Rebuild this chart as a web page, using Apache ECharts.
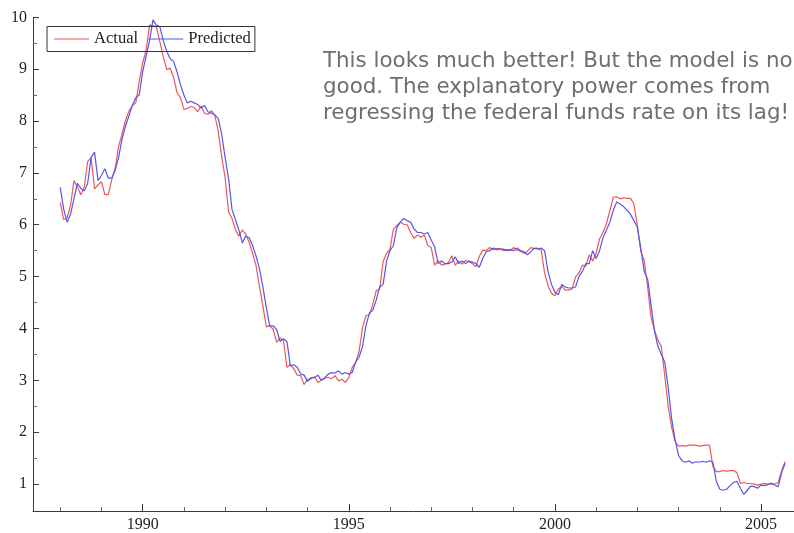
<!DOCTYPE html>
<html>
<head>
<meta charset="utf-8">
<script src="https://cdn.jsdelivr.net/npm/echarts@6/dist/echarts.min.js"></script>
<style>
  html, body { margin: 0; padding: 0; background: #fff; }
  #chart { width: 794px; height: 533px; }
</style>
</head>
<body>
<div id="chart"></div>
<script>
// Monthly observations, first point plotted at 1988.0
const startYear = 1988;

const actual = [
  6.43, 6.10, 6.13, 6.37, 6.85, 6.73, 6.58, 6.73, 7.22, 7.29, 6.69, 6.77,
  6.83, 6.58, 6.58, 6.87, 7.09, 7.51, 7.75, 8.01, 8.19, 8.30, 8.35, 8.76,
  9.12, 9.36, 9.85, 9.84, 9.81, 9.53, 9.24, 8.99, 9.02, 8.84, 8.55, 8.45,
  8.23, 8.24, 8.28, 8.26, 8.18, 8.29, 8.15, 8.13, 8.20, 8.11, 7.81, 7.31,
  6.91, 6.25, 6.12, 5.91, 5.78, 5.90, 5.82, 5.66, 5.45, 5.21, 4.81, 4.43,
  4.03, 4.06, 3.98, 3.73, 3.82, 3.76, 3.25, 3.30, 3.22, 3.10, 3.09, 2.92,
  3.02, 3.03, 3.07, 2.96, 3.00, 3.04, 3.06, 3.03, 3.09, 2.99, 3.02, 2.96,
  3.05, 3.25, 3.34, 3.56, 4.01, 4.25, 4.26, 4.47, 4.73, 4.76, 5.29, 5.45,
  5.53, 5.92, 5.98, 6.05, 6.01, 6.00, 5.85, 5.74, 5.80, 5.76, 5.80, 5.60,
  5.56, 5.22, 5.31, 5.22, 5.24, 5.27, 5.40, 5.22, 5.30, 5.24, 5.31, 5.29,
  5.25, 5.19, 5.39, 5.51, 5.50, 5.56, 5.52, 5.54, 5.54, 5.50, 5.52, 5.50,
  5.56, 5.51, 5.49, 5.45, 5.49, 5.56, 5.54, 5.55, 5.51, 5.07, 4.83, 4.68,
  4.63, 4.76, 4.81, 4.74, 4.74, 4.76, 4.99, 5.07, 5.22, 5.20, 5.42, 5.30,
  5.45, 5.73, 5.85, 6.02, 6.27, 6.53, 6.54, 6.50, 6.52, 6.51, 6.51, 6.40,
  5.98, 5.49, 5.31, 4.80, 4.21, 3.97, 3.77, 3.65, 3.07, 2.49, 2.09, 1.82,
  1.73, 1.74, 1.73, 1.75, 1.75, 1.75, 1.73, 1.74, 1.75, 1.75, 1.34, 1.24,
  1.24, 1.26, 1.25, 1.26, 1.26, 1.22, 1.01, 1.03, 1.01, 1.01, 1.00, 0.98,
  1.00, 1.01, 1.00, 1.00, 1.00, 1.03, 1.26, 1.43
];

const predicted = [
  6.72, 6.30, 6.05, 6.20, 6.50, 6.80, 6.70, 6.65, 6.80, 7.30, 7.40, 6.85,
  6.95, 7.08, 6.90, 6.90, 7.05, 7.30, 7.65, 7.90, 8.10, 8.30, 8.45, 8.50,
  8.95, 9.25, 9.55, 9.95, 9.85, 9.82, 9.55, 9.35, 9.20, 9.15, 8.95, 8.70,
  8.50, 8.35, 8.38, 8.35, 8.32, 8.25, 8.30, 8.18, 8.15, 8.12, 8.05, 7.75,
  7.30, 6.90, 6.30, 6.10, 5.90, 5.65, 5.78, 5.75, 5.60, 5.40, 5.15, 4.80,
  4.40, 4.05, 4.05, 3.98, 3.75, 3.80, 3.75, 3.28, 3.30, 3.25, 3.12, 3.10,
  2.98, 3.05, 3.05, 3.10, 3.00, 3.05, 3.12, 3.15, 3.14, 3.18, 3.12, 3.15,
  3.12, 3.15, 3.35, 3.45, 3.65, 4.05, 4.30, 4.35, 4.55, 4.80, 4.85, 5.30,
  5.50, 5.60, 5.95, 6.05, 6.12, 6.08, 6.05, 5.92, 5.85, 5.85, 5.82, 5.85,
  5.70, 5.58, 5.25, 5.30, 5.25, 5.25, 5.28, 5.38, 5.25, 5.30, 5.25, 5.30,
  5.28, 5.25, 5.18, 5.35, 5.48, 5.50, 5.55, 5.52, 5.53, 5.53, 5.50, 5.52,
  5.50, 5.55, 5.50, 5.48, 5.42, 5.48, 5.55, 5.53, 5.55, 5.50, 5.10, 4.85,
  4.70, 4.65, 4.85, 4.80, 4.78, 4.78, 4.80, 5.00, 5.10, 5.25, 5.25, 5.50,
  5.35, 5.50, 5.75, 5.90, 6.05, 6.28, 6.44, 6.40, 6.35, 6.28, 6.20, 6.08,
  5.95, 5.55, 5.10, 4.95, 4.45, 3.95, 3.65, 3.50, 3.35, 2.85, 2.25, 1.85,
  1.55, 1.45, 1.42, 1.45, 1.40, 1.43, 1.42, 1.44, 1.42, 1.45, 1.42, 1.05,
  0.90, 0.88, 0.90, 0.97, 1.03, 1.05, 0.92, 0.80, 0.88, 0.96, 0.95, 0.92,
  0.98, 0.97, 0.99, 1.02, 0.98, 0.95, 1.22, 1.40
];

const yearLabels = [1990, 1995, 2000, 2005];
const yearMinorTicks = [1988, 1989, 1991, 1992, 1993, 1994, 1996, 1997,
                        1998, 1999, 2001, 2002, 2003, 2004];
const valueLabels = [1, 2, 3, 4, 5, 6, 7, 8, 9, 10];
const valueMinorTicks = [1.5, 2.5, 3.5, 4.5, 5.5, 6.5, 7.5, 8.5, 9.5];

const noteLines = [
  'This looks much better! But the model is no',
  'good. The explanatory power comes from',
  'regressing the federal funds rate on its lag!'
];

const toPoints = arr => arr.map((v, i) => [startYear + i / 12, v]);

const serif = '"Liberation Serif", "DejaVu Serif", serif';
const axisColor = '#3a3a3a';

const chart = echarts.init(document.getElementById('chart'), null, { renderer: 'canvas' });

const xRange = { min: 1987.34, max: 2005.8 };
const yRange = { min: 0.48, max: 10 };

chart.setOption({
  animation: false,
  backgroundColor: '#ffffff',
  grid: { left: 33, right: 0, top: 17.3, bottom: 20.3 },
  legend: {
    left: 47, top: 26.5,
    orient: 'horizontal',
    padding: [4, 4, 4, 7],
    itemGap: 10,
    itemWidth: 35,
    itemHeight: 1.2,
    icon: 'rect',
    borderColor: '#333',
    borderWidth: 1,
    borderRadius: 0,
    backgroundColor: 'transparent',
    textStyle: { fontFamily: serif, fontSize: 16.6, color: '#222' },
    data: ['Actual', 'Predicted']
  },
  xAxis: [
    {
      // main axis: line, labelled 5-year ticks
      type: 'value', min: xRange.min, max: xRange.max,
      axisLine: { show: true, lineStyle: { color: axisColor, width: 1 } },
      axisTick: { show: true, inside: true, length: 7, customValues: yearLabels, lineStyle: { color: axisColor } },
      axisLabel: {
        show: true, customValues: yearLabels, margin: 6,
        fontFamily: serif, fontSize: 16, color: '#222',
        formatter: v => String(Math.round(v))
      },
      splitLine: { show: false }
    },
    {
      // overlay axis: short yearly ticks only
      type: 'value', min: xRange.min, max: xRange.max, position: 'bottom', offset: 0,
      axisLine: { show: false },
      axisTick: { show: true, inside: true, length: 4, customValues: yearMinorTicks, lineStyle: { color: '#666', width: 1 } },
      axisLabel: { show: true, customValues: yearMinorTicks, formatter: () => '' },
      splitLine: { show: false }
    }
  ],
  yAxis: [
    {
      type: 'value', min: yRange.min, max: yRange.max,
      axisLine: { show: true, lineStyle: { color: axisColor, width: 1 } },
      axisTick: { show: true, inside: true, length: 6, customValues: valueLabels, lineStyle: { color: axisColor } },
      axisLabel: { show: true, customValues: valueLabels, margin: 6, fontFamily: serif, fontSize: 16, color: '#222' },
      splitLine: { show: false }
    },
    {
      // overlay axis: short half-step ticks only
      type: 'value', min: yRange.min, max: yRange.max, position: 'left', offset: 0,
      axisLine: { show: false },
      axisTick: { show: true, inside: true, length: 4, customValues: valueMinorTicks, lineStyle: { color: '#666', width: 1 } },
      axisLabel: { show: true, customValues: valueMinorTicks, formatter: () => '' },
      splitLine: { show: false }
    }
  ],
  series: [
    {
      name: 'Actual', type: 'line', xAxisIndex: 0, yAxisIndex: 0,
      data: toPoints(actual),
      showSymbol: false, symbol: 'none',
      lineStyle: { color: '#ea5858', width: 1.2 },
      itemStyle: { color: '#ea5858' }
    },
    {
      name: 'Predicted', type: 'line', xAxisIndex: 0, yAxisIndex: 0,
      data: toPoints(predicted),
      showSymbol: false, symbol: 'none',
      lineStyle: { color: '#5656ea', width: 1.2 },
      itemStyle: { color: '#5656ea' }
    },
    {
      // empty series attached to the overlay axes
      name: 'ticks', type: 'line', xAxisIndex: 1, yAxisIndex: 1,
      data: [], silent: true, showSymbol: false
    }
  ],
  graphic: noteLines.map((line, k) => ({
    type: 'text',
    left: 323, top: 51 + k * 26,
    style: {
      text: line,
      fontFamily: '"DejaVu Sans", Verdana, sans-serif',
      fontSize: 21.4,
      fill: '#6e6e6e'
    },
    z: 10
  }))
});
</script>
</body>
</html>
